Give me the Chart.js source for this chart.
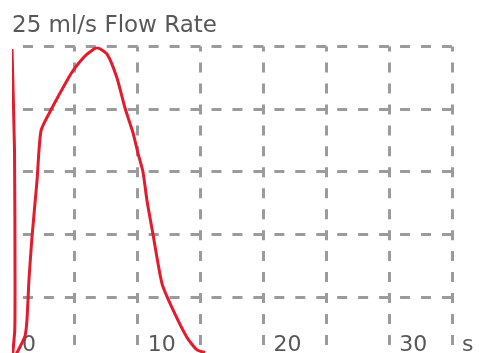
<!DOCTYPE html>
<html>
<head>
<meta charset="utf-8">
<script src="https://cdn.jsdelivr.net/npm/chart.js@4/dist/chart.umd.min.js"></script>
<style>
  html, body { margin: 0; padding: 0; background: #fff; overflow: hidden; }
  #wrap { position: relative; width: 479px; height: 380px; }
</style>
</head>
<body>
<div id="wrap"><canvas id="chart"></canvas></div>
<script>
// flow curve, time in seconds / flow in ml/s
const timeS = [0, 0.2, 0.24, 0.22, 0.04, 1.03, 1.19, 1.35, 1.59, 1.99, 2.31, 3.18, 4.38, 5.01, 5.97, 6.76, 7.56, 8.35, 8.99, 9.63, 10.02, 10.42, 10.74, 11.22, 11.93, 12.81, 13.92, 14.72, 15.35];
const flowMl = [24.8, 16.7, 6.4, 2.4, 0.0, 1.9, 3.2, 6.4, 9.8, 14.3, 18.3, 20.1, 22.3, 23.3, 24.4, 24.9, 24.4, 22.5, 20.1, 18.1, 16.5, 15.0, 12.7, 10.0, 6.1, 4.0, 1.8, 0.8, 0.6];

const xTickValues = [0, 10, 20, 30, 35];
const xTickTexts = ['0', '10', '20', '30', 's'];

const gray = 'rgb(155,155,158)';
const textGray = '#585858';
const fontFamily = '"DejaVu Sans", sans-serif';

const points = timeS.map((t, i) => ({ x: t, y: flowMl[i] }));

const ctx = document.getElementById('chart').getContext('2d');

new Chart(ctx, {
    type: 'scatter',
    data: {
        datasets: [{
            data: points,
            showLine: true,
            borderColor: 'rgb(227,27,45)',
            borderWidth: 3,
            pointRadius: 0,
            tension: 0.2
        }]
    },
    options: {
        responsive: true,
        maintainAspectRatio: false,
        animation: false,
        layout: { padding: { left: 12, right: 27, top: 0, bottom: 0 } },
        plugins: {
            legend: { display: false },
            tooltip: { enabled: false },
            title: {
                display: true,
                text: '25 ml/s Flow Rate',
                align: 'start',
                color: textGray,
                font: { family: fontFamily, size: 23, weight: 'normal' },
                padding: { top: 12, bottom: 7 }
            }
        },
        scales: {
            x: {
                type: 'linear',
                min: 0,
                max: 35,
                border: { display: false, dash: [10, 10.95], dashOffset: 5 },
                grid: {
                    color: c => (c.tick && c.tick.value === 0) ? 'rgba(0,0,0,0)' : gray,
                    lineWidth: 3,
                    drawTicks: false
                },
                ticks: {
                    stepSize: 5,
                    autoSkip: false,
                    maxRotation: 0,
                    align: 'start',
                    mirror: true,   // labels sit inside the plot, above the axis
                    labelOffset: 10,
                    padding: 1.6,
                    color: textGray,
                    font: { family: fontFamily, size: 22 },
                    callback: v => {
                        const i = xTickValues.indexOf(v);
                        return i >= 0 ? xTickTexts[i] : '';
                    }
                },
                afterFit: s => {
                    s.height = 20;
                    s.paddingLeft = 0;
                    s.paddingRight = 0;
                }
            },
            y: {
                min: 0,
                max: 25,
                border: { display: false, dash: [10, 10.95], dashOffset: 10 },
                grid: { color: gray, lineWidth: 3, drawTicks: false },
                ticks: { display: false, stepSize: 5 },
                afterFit: s => { s.width = 0; }
            }
        }
    }
});
</script>
</body>
</html>
